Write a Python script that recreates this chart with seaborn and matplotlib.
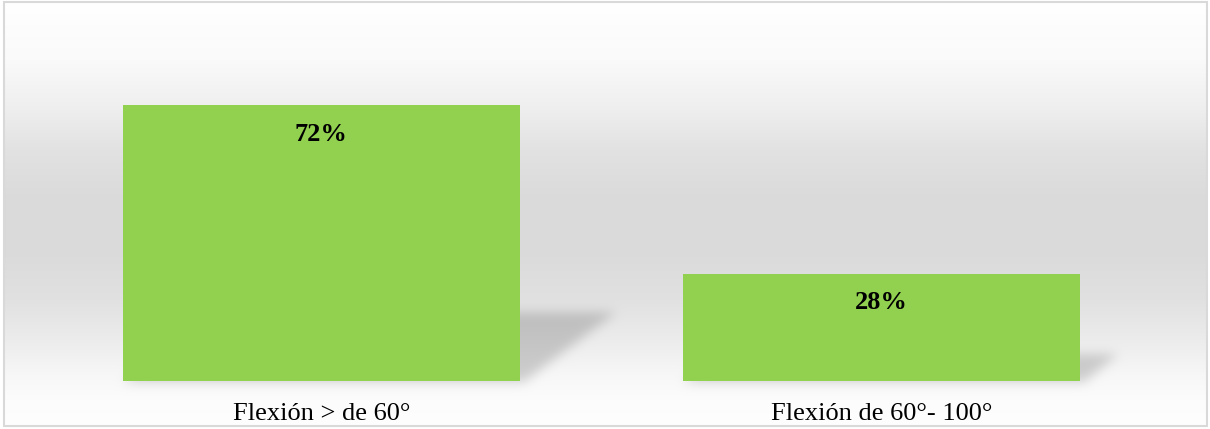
import numpy as np
import pandas as pd
import matplotlib
matplotlib.use("Agg")
import matplotlib.pyplot as plt
import seaborn as sns
from matplotlib.path import Path
from matplotlib.patches import Rectangle

categories = ["Flexión > de 60°", "Flexión de 60°- 100°"]
shares = [0.72, 0.28]
value_labels = ["72%", "28%"]

W, H = 1210, 429
BAR_COLOR = "#92D050"

sns.set_theme(style="white")
plt.rcParams["font.family"] = ["Liberation Serif", "DejaVu Serif"]

fig = plt.figure(figsize=(W / 100, H / 100), dpi=100)
fig.patch.set_facecolor("white")

# Full-figure layer for the chart-area fill, bar shadows and frame
bg = fig.add_axes([0, 0, 1, 1], zorder=0)
bg.set_xlim(0, W)
bg.set_ylim(0, H)
bg.axis("off")

# Main bar axes
ax_left, ax_right = 41, 1162
base_px, px_per_unit = 381, 383
ymax = 0.8
ax = fig.add_axes([ax_left / W, (H - base_px) / H, (ax_right - ax_left) / W,
                   ymax * px_per_unit / H], zorder=2)
ax.set_facecolor("none")

df = pd.DataFrame({"category": categories, "share": shares})
sns.barplot(data=df, x="category", y="share", color=BAR_COLOR, saturation=1,
            width=0.708, linewidth=0, ax=ax)

ax.set_xlim(-0.5, 1.5)
ax.set_ylim(0, ymax)
ax.set_xlabel("")
ax.set_ylabel("")
ax.set_yticks([])
for s in ax.spines.values():
    s.set_visible(False)
ax.tick_params(axis="x", length=0, pad=15.5, labelsize=19, colors="black")
for lbl in ax.get_xticklabels():
    lbl.set_fontfamily(["Liberation Serif", "DejaVu Serif"])

# Value labels near the top of each bar
for patch, text in zip(ax.patches, value_labels):
    ax.annotate(text, (patch.get_x() + patch.get_width() / 2, patch.get_height()),
                xytext=(0, -29), textcoords="offset pixels", ha="center",
                va="center", fontsize=19, fontweight="bold", color="black")

# Vertical white -> light grey -> white gradient inside the frame
# (stops given as distance from the top edge in pixels, grey level 0-255)
stop_pos = [2, 60, 110, 150, 200, 250, 300, 340, 375, 400, 426]
stop_val = [255, 250, 238, 226, 218, 218, 225, 236, 247, 252, 254]
rows_from_top = H - (np.arange(H) + 0.5)
grey = np.interp(rows_from_top, stop_pos, stop_val) / 255.0
canvas = np.repeat(grey[:, None], W, axis=1)

# Soft perspective shadows cast to the right of each bar
yy, xx = np.mgrid[0:H, 0:W]
pts = np.column_stack([xx.ravel() + 0.5, yy.ravel() + 0.5])
mask = np.zeros(H * W)
for patch in ax.patches:
    x0, x1 = patch.get_x(), patch.get_x() + patch.get_width()
    (px0, pb), (px1, pt) = ax.transData.transform([(x0, 0), (x1, patch.get_height())])
    sh = 0.25 * (pt - pb)
    dx = 1.4 * sh
    poly = Path([(px0, pb - 1), (px1 + 4, pb - 1), (px1 + dx, pb + sh), (px0 + dx, pb + sh)])
    mask = np.maximum(mask, poly.contains_points(pts).astype(float))
mask = mask.reshape(H, W)


def blur(a, sigma):
    r = int(3 * sigma)
    k = np.exp(-0.5 * (np.arange(-r, r + 1) / sigma) ** 2)
    k /= k.sum()
    a = np.apply_along_axis(lambda v: np.convolve(v, k, mode="same"), 0, a)
    a = np.apply_along_axis(lambda v: np.convolve(v, k, mode="same"), 1, a)
    return a


mask = blur(mask, 5.5)
canvas = canvas * (1 - 0.17 * mask)

# White outside the frame
canvas[:, :4] = 1.0
canvas[:, W - 3:] = 1.0
canvas_rgb = np.dstack([canvas, canvas, canvas])
bg.imshow(canvas_rgb, extent=(0, W, 0, H), origin="lower", aspect="auto",
          interpolation="nearest", zorder=0)

# Light grey chart frame
bg.add_patch(Rectangle((4, 3), W - 7, H - 5, fill=False, edgecolor="#D9D9D9",
                       linewidth=1.5, zorder=3))

fig.savefig("out.png", dpi=100)
